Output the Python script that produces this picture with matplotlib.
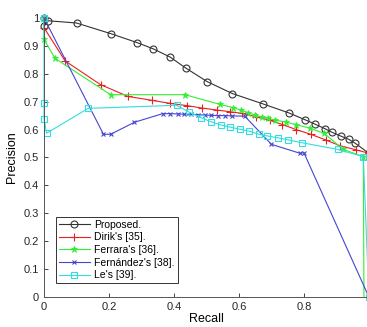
import numpy as np
import matplotlib.pyplot as plt

# Proposed.
prop_r = [0, 0, 0.013, 0.10, 0.205, 0.286, 0.337, 0.388, 0.437, 0.502, 0.58, 0.674,
          0.753, 0.802, 0.835, 0.865, 0.887, 0.915, 0.938, 0.958, 1.0]
prop_p = [1.0, 0.97, 0.99, 0.982, 0.944, 0.912, 0.889, 0.86, 0.82, 0.772, 0.729, 0.692,
          0.66, 0.636, 0.619, 0.603, 0.59, 0.576, 0.565, 0.551, 0.515]

# Dirik's [35]
dirik_r = [0, 0.065, 0.174, 0.258, 0.331, 0.388, 0.439, 0.487, 0.532, 0.572, 0.61,
           0.652, 0.696, 0.734, 0.776, 0.821, 0.867, 0.911, 0.962, 1.0, 1.0]
dirik_p = [0.965, 0.846, 0.761, 0.719, 0.705, 0.694, 0.686, 0.677, 0.670, 0.664, 0.658,
           0.646, 0.633, 0.618, 0.60, 0.583, 0.563, 0.542, 0.527, 0.515, 0.0]

# Ferrara's [36]
ferr_r = [0, 0, 0.034, 0.205, 0.434, 0.542, 0.582, 0.607, 0.628, 0.649, 0.67, 0.69,
          0.711, 0.744, 0.776, 0.818, 0.863, 0.921, 0.983, 0.985]
ferr_p = [1.0, 0.923, 0.855, 0.725, 0.725, 0.69, 0.679, 0.669, 0.661, 0.652, 0.646, 0.64,
          0.634, 0.627, 0.618, 0.605, 0.586, 0.529, 0.503, 0.0]

# Fernandez's [38]
fern_r = [0, 0.183, 0.205, 0.278, 0.365, 0.389, 0.411, 0.432, 0.452, 0.474, 0.495,
          0.515, 0.536, 0.557, 0.579, 0.618, 0.70, 0.788, 0.80, 1.0]
fern_p = [1.0, 0.583, 0.583, 0.626, 0.657, 0.657, 0.656, 0.655, 0.655, 0.653, 0.652,
          0.651, 0.650, 0.650, 0.649, 0.648, 0.547, 0.515, 0.517, 0.0]

# Le's [39]
le_r = [0, 0, 0, 0.008, 0.136, 0.408, 0.446, 0.483, 0.514, 0.545, 0.572, 0.603, 0.632,
        0.662, 0.688, 0.721, 0.752, 0.793, 0.904, 0.983, 1.0]
le_p = [1.0, 0.696, 0.638, 0.587, 0.676, 0.687, 0.663, 0.643, 0.628, 0.616, 0.609, 0.601,
        0.594, 0.583, 0.577, 0.57, 0.563, 0.553, 0.529, 0.503, 0.0]

plt.rcParams['font.family'] = 'Liberation Sans'

fig = plt.figure(figsize=(3.67, 3.27), dpi=100)
ax = fig.add_axes([0.12, 0.092, 0.885, 0.853])

ms = 4.5
ax.plot(prop_r, prop_p, '-o', color='#333333', mfc='none', ms=5, lw=0.8, mew=0.8,
        label='Proposed.', clip_on=False)
ax.plot(dirik_r[:-1], dirik_p[:-1], '-+', color='#e8201e', ms=ms + 1, lw=0.8, mew=0.8,
        label="Dirik's [35].", clip_on=False)
ax.plot(dirik_r[-2:], dirik_p[-2:], '-', color='#e8201e', lw=0.8)
ax.plot(ferr_r[:-1], ferr_p[:-1], '-*', color='#33ee33', ms=ms, lw=0.8, mew=0.6,
        label="Ferrara's [36].", clip_on=False)
ax.plot(ferr_r[-2:], ferr_p[-2:], '-', color='#33ee33', lw=0.8)
ax.plot(fern_r, fern_p, '-x', color='#4545d0', ms=ms - 1, lw=0.8, mew=0.8,
        label="Fernández's [38].", clip_on=False)
ax.plot(le_r, le_p, '-s', color='#33dddd', mfc='none', ms=ms, lw=0.8, mew=0.8,
        label="Le's [39].", clip_on=False)

ax.set_xlim(0, 1)
ax.set_ylim(0, 1)
ax.set_xticks([0, 0.2, 0.4, 0.6, 0.8])
ax.set_xticklabels(['0', '0.2', '0.4', '0.6', '0.8'])
ax.set_yticks(np.arange(0, 1.01, 0.1))
ax.set_yticklabels(['0', '0.1', '0.2', '0.3', '0.4', '0.5', '0.6', '0.7', '0.8', '0.9', '1'])
ax.tick_params(direction='in', labelsize=8, colors='#262626', length=3, width=0.6)
for s in ['top', 'right']:
    ax.spines[s].set_visible(False)
for s in ['left', 'bottom']:
    ax.spines[s].set_color('#555555')
    ax.spines[s].set_linewidth(0.7)

ax.set_xlabel('Recall', fontsize=9, labelpad=1)
ax.set_ylabel('Precision', fontsize=9, labelpad=4)

leg = ax.legend(loc='lower left', bbox_to_anchor=(0.02, 0.03), fontsize=7.5,
                fancybox=False, framealpha=1, edgecolor='#333333', borderpad=0.3,
                labelspacing=0.25, handlelength=3, handletextpad=0.4)
leg.get_frame().set_linewidth(0.7)

fig.savefig('out.png', dpi=100)
